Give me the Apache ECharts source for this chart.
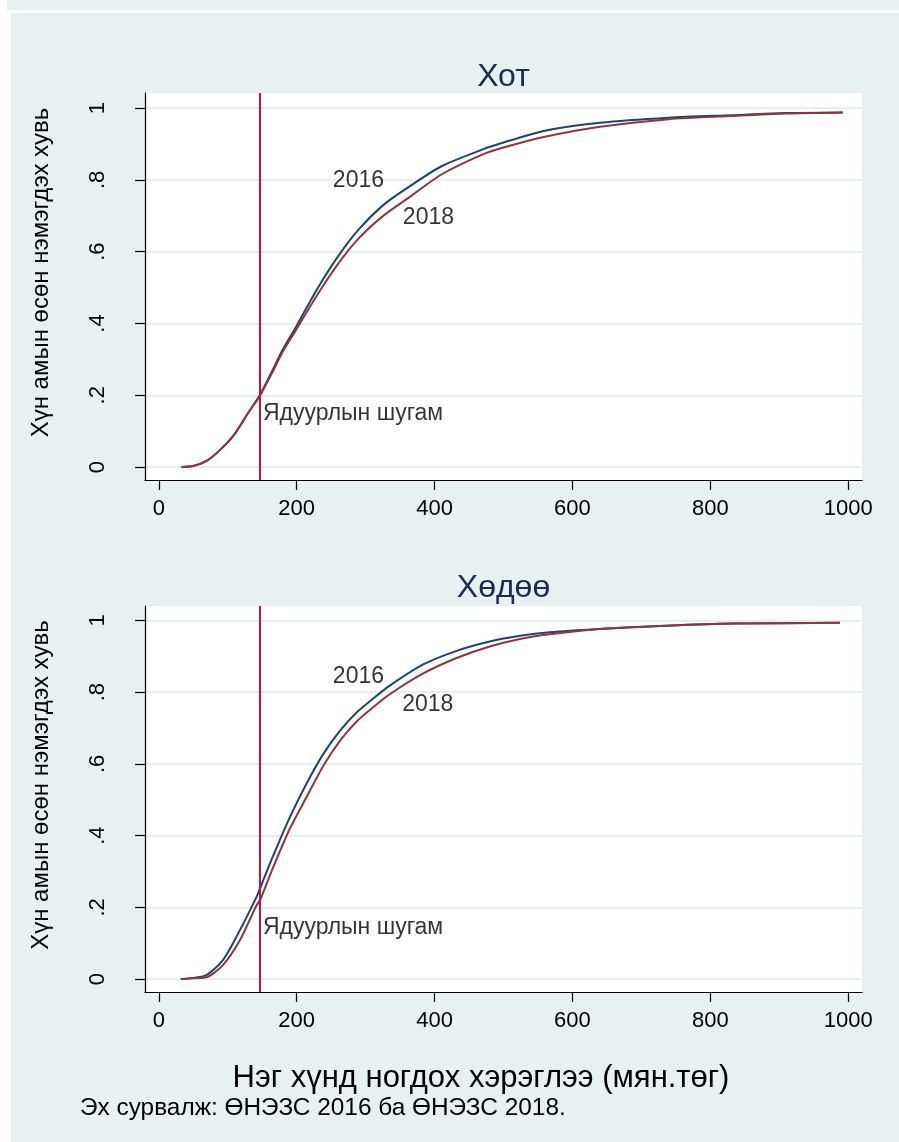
<!DOCTYPE html>
<html>
<head>
<meta charset="utf-8">
<script src="https://cdn.jsdelivr.net/npm/echarts@6/dist/echarts.min.js"></script>
<style>
html,body{margin:0;padding:0;background:#ffffff;}
#chart{width:899px;height:1142px;}
</style>
</head>
<body>
<div id="chart"></div>
<script>
// ---------- data ----------
const panelTitles = ['Хот', 'Хөдөө'];
const seriesNames = ['2016', '2018'];
const xTicks = [0, 200, 400, 600, 800, 1000];
const yTicks = [0, 0.2, 0.4, 0.6, 0.8, 1];
const yTickLabels = ['0', '.2', '.4', '.6', '.8', '1'];
const povertyLine = 146.6;

// Хот (urban)
const hotX = [33, 50, 70, 90, 110, 130, 146.6, 165, 180, 200, 230, 260, 290, 325, 360, 410, 470, 500, 560, 640, 740, 830, 910, 992];
const hot2016 = [0, 0.003, 0.018, 0.05, 0.092, 0.152, 0.2, 0.27, 0.328, 0.394, 0.497, 0.587, 0.662, 0.729, 0.777, 0.838, 0.885, 0.904, 0.937, 0.959, 0.973, 0.98, 0.986, 0.988];
const hot2018 = [0, 0.003, 0.018, 0.05, 0.092, 0.152, 0.199, 0.265, 0.322, 0.385, 0.48, 0.566, 0.637, 0.699, 0.747, 0.815, 0.871, 0.89, 0.92, 0.948, 0.969, 0.978, 0.985, 0.988];

// Хөдөө (rural)
const hodooX = [32, 45, 69, 93, 117.6, 141.8, 146.6, 166, 190, 214, 238.5, 262.7, 287, 311, 335, 383.6, 432, 480, 524, 567, 640, 737, 833, 988];
const hodoo2016 = [0, 0.002, 0.011, 0.053, 0.136, 0.229, 0.252, 0.344, 0.451, 0.544, 0.627, 0.692, 0.743, 0.782, 0.818, 0.877, 0.915, 0.941, 0.957, 0.967, 0.976, 0.985, 0.991, 0.993];
const hodoo2018 = [0, 0.002, 0.005, 0.039, 0.108, 0.206, 0.219, 0.312, 0.419, 0.506, 0.594, 0.664, 0.718, 0.758, 0.794, 0.852, 0.895, 0.927, 0.948, 0.961, 0.976, 0.985, 0.991, 0.993];

// text annotations: [x, y, text]
const hotLabels = [[252.5, 0.797, '2016'], [354, 0.696, '2018'], [151, 0.148, 'Ядуурлын шугам']];
const hodooLabels = [[252.5, 0.842, '2016'], [353, 0.764, '2018'], [151, 0.144, 'Ядуурлын шугам']];

const yAxisTitle = 'Хүн амын өсөн нэмэгдэх хувь';
const xAxisTitle = 'Нэг хүнд ногдох хэрэглээ (мян.төг)';
const sourceText = 'Эх сурвалж: ӨНЭЗС 2016 ба ӨНЭЗС 2018.';

// ---------- styling ----------
const FONT = '"Liberation Sans", Arial, sans-serif';
const BG = '#e8f0f2';
const GRIDC = '#e6eef1';
const C2016 = '#1a476f';
const C2018 = '#90353b';
const CRED = '#c8103a';
const TITLEC = '#1e2a4f';

function pairs(xs, ys) { return xs.map((x, i) => [x, ys[i]]); }

const grids = [
  { left: 145, top: 93, width: 717, height: 387 },
  { left: 145, top: 606, width: 717, height: 386 }
];
const yRanges = [[-0.036, 1.042], [-0.036, 1.04]];

function makeX(i) {
  return {
    type: 'value', gridIndex: i, min: -20, max: 1020,
    axisLine: { show: true, onZero: false, lineStyle: { color: '#000', width: 1.2 } },
    axisTick: { show: true, length: 10, customValues: xTicks, lineStyle: { color: '#000', width: 1.2 } },
    axisLabel: { show: true, customValues: xTicks, margin: 18, fontSize: 22, color: '#000', fontFamily: FONT,
      formatter: v => String(v) },
    splitLine: { show: false }
  };
}
function makeY(i) {
  return {
    type: 'value', gridIndex: i, min: yRanges[i][0], max: yRanges[i][1],
    name: yAxisTitle, nameLocation: 'middle', nameRotate: 90, nameGap: 92,
    nameTextStyle: { fontSize: 24, color: '#000', fontFamily: FONT, padding: [0, 0, 0, 28] },
    axisLine: { show: true, onZero: false, lineStyle: { color: '#000', width: 1.2 } },
    axisTick: { show: true, length: 10, customValues: yTicks, lineStyle: { color: '#000', width: 1.2 } },
    axisLabel: { show: true, customValues: yTicks, rotate: 90, margin: 36, fontSize: 22, color: '#000', fontFamily: FONT,
      formatter: v => { const k = yTicks.findIndex(t => Math.abs(t - v) < 1e-6); return k >= 0 ? yTickLabels[k] : ''; } },
    splitLine: { show: true, lineStyle: { color: GRIDC, width: 2 } }
  };
}

function lineSeries(i, name, data, color, withMark) {
  const s = {
    type: 'line', name: name, xAxisIndex: i, yAxisIndex: i, data: data,
    showSymbol: false, symbol: 'none', smooth: 0.25,
    lineStyle: { color: color, width: 2 }, itemStyle: { color: color },
    z: name === '2016' ? 3 : 4, silent: true, animation: false
  };
  if (withMark) {
    s.markLine = {
      silent: true, symbol: ['none', 'none'], label: { show: false },
      lineStyle: { color: CRED, width: 2, type: 'solid' },
      data: [{ xAxis: povertyLine }], animation: false
    };
  }
  return s;
}
function labelSeries(i, labels) {
  return {
    type: 'scatter', xAxisIndex: i, yAxisIndex: i, symbolSize: 0, silent: true, animation: false,
    data: labels.map(l => ({ value: [l[0], l[1]], name: l[2] })),
    label: { show: true, position: 'right', distance: 0, formatter: p => p.name,
      fontSize: 23, color: '#000', fontFamily: FONT },
    z: 6
  };
}

function textEl(x, y, text, size, color, align) {
  return { type: 'text', x: x, y: y, silent: true, z: 10,
    style: { text: text, fill: color, font: size + 'px ' + FONT, textAlign: align, textVerticalAlign: 'middle' } };
}

const option = {
  backgroundColor: '#ffffff',
  animation: false,
  textStyle: { fontFamily: FONT },
  graphic: [
    { type: 'rect', shape: { x: 7, y: 0, width: 892, height: 10 }, style: { fill: BG }, z: -10, silent: true },
    { type: 'rect', shape: { x: 11, y: 13, width: 888, height: 1129 }, style: { fill: BG }, z: -10, silent: true },
    textEl(503.5, 77, panelTitles[0], 32, TITLEC, 'center'),
    textEl(503.5, 588, panelTitles[1], 32, TITLEC, 'center'),
    textEl(481, 1078, xAxisTitle, 31, '#000', 'center'),
    textEl(80, 1108, sourceText, 24.4, '#000', 'left')
  ],
  grid: grids.map(g => Object.assign({ show: true, backgroundColor: '#ffffff', borderWidth: 0, containLabel: false }, g)),
  xAxis: [makeX(0), makeX(1)],
  yAxis: [makeY(0), makeY(1)],
  series: [
    lineSeries(0, seriesNames[0], pairs(hotX, hot2016), C2016, false),
    lineSeries(0, seriesNames[1], pairs(hotX, hot2018), C2018, true),
    labelSeries(0, hotLabels),
    lineSeries(1, seriesNames[0], pairs(hodooX, hodoo2016), C2016, false),
    lineSeries(1, seriesNames[1], pairs(hodooX, hodoo2018), C2018, true),
    labelSeries(1, hodooLabels)
  ]
};

const chart = echarts.init(document.getElementById('chart'), null, { renderer: 'canvas', width: 899, height: 1142 });
chart.setOption(option);
</script>
</body>
</html>
